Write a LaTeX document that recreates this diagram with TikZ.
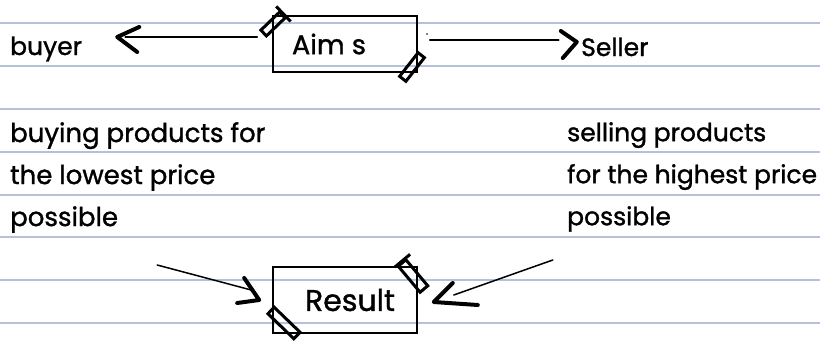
\documentclass[tikz,border=0pt]{standalone}
\usepackage{fontspec}
\setmainfont{Poppins}[FakeBold=1.2]
\usetikzlibrary{calc}
\definecolor{ruling}{RGB}{178,194,218}
\begin{document}
\begin{tikzpicture}[x=1pt,y=-1pt,
  hand/.style={font=\fontsize{25}{42}\selectfont, inner sep=0pt, align=left},
  box/.style={draw, line width=1.6pt, inner sep=0pt, minimum width=144pt, minimum height=66pt},
  tape/.style={draw, line width=3pt, inner sep=0pt},
  link/.style={line width=1.5pt, line cap=round},
  headline/.style={line width=4pt, line cap=round, line join=round}]

  % page and ruled lines
  \useasboundingbox (0,0) rectangle (820,343);
  \fill[white] (0,0) rectangle (820,343);
  \foreach \ry in {23,66,109,152,195,237,280,323}
    \draw[ruling, line width=1.4pt] (0,\ry) -- (820,\ry);

  % boxes
  \node[box, minimum height=56pt] (aims) at (345,44) {\fontsize{27}{30}\selectfont Aim s\hspace*{32pt}};
  \node[box] (result) at (345,300) {\fontsize{30}{32}\selectfont\hspace*{10pt}Result};

  % tape strips on the box corners
  \node[tape, minimum width=26pt, minimum height=8pt, rotate=44] (tapeA) at (273,24) {};
  \draw[line width=3pt] ($(tapeA.north east)!-0.45!(tapeA.south east)$) -- ($(tapeA.south east)!-0.45!(tapeA.north east)$);
  \node[tape, minimum width=30pt, minimum height=8pt, rotate=52] (tapeB) at (412,67) {};
  \node[tape, minimum width=36pt, minimum height=9pt, rotate=-44] (tapeC) at (284,323) {};
  \node[tape, minimum width=34pt, minimum height=10pt, rotate=-50] (tapeD) at (413,276) {};
  \draw[line width=3pt] ($(tapeD.north west)!-0.4!(tapeD.south west)$) -- ($(tapeD.south west)!-0.1!(tapeD.north west)$);

  % labels
  \node[hand, anchor=base west] (buyer) at (10,55) {buyer};
  \node[hand, anchor=base west] (seller) at (581,56) {Seller};
  \node[hand, anchor=north west, font=\fontsize{26}{42}\selectfont] (buyt) at (10,122) {buying products for\\the lowest price\\possible};
  \node[hand, anchor=north west] (sellt) at (567,122) {selling products\\for the highest price\\possible};

  % connectors: thin shafts with bold hand-drawn heads
  \draw[link] ($(aims.west)+(-15,-7)$) -- ($(aims.west)+(-147,-7)$);
  \draw[headline] ($(aims.west)+(-133,-17)$) -- ($(aims.west)+(-155,-7)$) -- ($(aims.west)+(-135,8)$);

  \draw[link] ($(aims.east)+(12,-4)$) -- ($(aims.east)+(141,-4)$);
  \draw[headline] ($(aims.east)+(143,-13)$) -- ($(aims.east)+(159,-2)$) -- ($(aims.east)+(145,14)$);
  \fill (427,34) circle (0.8pt);

  \draw[link] ($(result.west)+(-115,-35)$) -- ($(result.west)+(-21,-10)$);
  \draw[headline] ($(result.west)+(-28,-22)$) -- ($(result.west)+(-13,0)$) -- ($(result.west)+(-35,3)$);

  \draw[link] ($(result.east)+(135,-40)$) -- ($(result.east)+(36,-5)$);
  \draw[headline] ($(result.east)+(35,-17)$) -- ($(result.east)+(16,2)$) -- ($(result.east)+(60,5)$);
\end{tikzpicture}
\end{document}
